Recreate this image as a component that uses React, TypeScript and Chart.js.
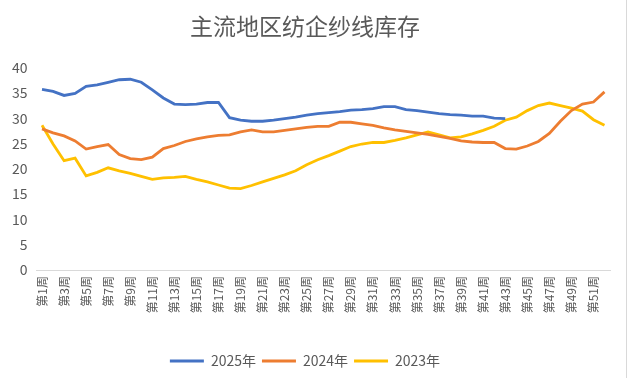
import React, { useEffect, useRef } from "react";
import { Chart, registerables } from "chart.js";

Chart.register(...registerables);

const weeks = [
  "第1周", "第2周", "第3周", "第4周", "第5周", "第6周", "第7周", "第8周", "第9周", "第10周",
  "第11周", "第12周", "第13周", "第14周", "第15周", "第16周", "第17周", "第18周", "第19周", "第20周",
  "第21周", "第22周", "第23周", "第24周", "第25周", "第26周", "第27周", "第28周", "第29周", "第30周",
  "第31周", "第32周", "第33周", "第34周", "第35周", "第36周", "第37周", "第38周", "第39周", "第40周",
  "第41周", "第42周", "第43周", "第44周", "第45周", "第46周", "第47周", "第48周", "第49周", "第50周",
  "第51周", "第52周",
];

const y2025 = [
  35.7, 35.3, 34.5, 34.9, 36.3, 36.6, 37.1, 37.6, 37.7, 37.1,
  35.6, 34.0, 32.8, 32.7, 32.8, 33.1, 33.1, 30.1, 29.6, 29.4,
  29.4, 29.6, 29.9, 30.2, 30.6, 30.9, 31.1, 31.3, 31.6, 31.7,
  31.9, 32.3, 32.3, 31.7, 31.5, 31.2, 30.9, 30.7, 30.6, 30.4,
  30.4, 30.0, 29.9,
];

const y2024 = [
  27.9, 27.1, 26.5, 25.5, 23.9, 24.4, 24.8, 22.8, 22.0, 21.8,
  22.3, 24.0, 24.6, 25.4, 25.9, 26.3, 26.6, 26.7, 27.3, 27.7,
  27.3, 27.3, 27.6, 27.9, 28.2, 28.4, 28.4, 29.2, 29.2, 28.9,
  28.6, 28.1, 27.7, 27.4, 27.1, 26.8, 26.4, 26.0, 25.5, 25.3,
  25.2, 25.2, 24.0, 23.9, 24.5, 25.4, 27.0, 29.4, 31.5, 32.8,
  33.2, 35.2,
];

const y2023 = [
  28.6, 24.9, 21.6, 22.1, 18.6, 19.3, 20.2, 19.6, 19.1, 18.5,
  17.9, 18.2, 18.3, 18.5, 17.9, 17.4, 16.8, 16.2, 16.1, 16.7,
  17.4, 18.1, 18.8, 19.6, 20.8, 21.8, 22.6, 23.5, 24.4, 24.9,
  25.2, 25.2, 25.6, 26.1, 26.7, 27.3, 26.7, 26.1, 26.3, 26.9,
  27.6, 28.4, 29.6, 30.2, 31.5, 32.5, 33.0, 32.5, 32.0, 31.4,
  29.7, 28.6,
];

const seriesNames = ["2025年", "2024年", "2023年"];
const seriesColors = ["#4472C4", "#ED7D31", "#FFC000"];

const yTicks = [0, 5, 10, 15, 20, 25, 30, 35, 40];

const titleText = "主流地区纺企纱线库存";

const FONT = "'Noto Sans CJK SC', 'Noto Sans', sans-serif";
const TEXT = "#595959";

export default function App() {
  const ref = useRef<HTMLCanvasElement | null>(null);

  useEffect(() => {
    const canvas = ref.current;
    if (!canvas) return;
    const data = [y2025, y2024, y2023];
    const chart = new Chart(canvas, {
      type: "line",
      data: {
        labels: weeks,
        datasets: data.map((d, i) => ({
          label: seriesNames[i],
          data: d,
          borderColor: seriesColors[i],
          backgroundColor: seriesColors[i],
          borderWidth: 2.8,
          pointRadius: 0,
          pointHoverRadius: 0,
          tension: 0,
          fill: false,
        })),
      },
      options: {
        responsive: false,
        animation: false,
        devicePixelRatio: 1,
        layout: { padding: { left: 0, right: 19, top: 0, bottom: 0 } },
        plugins: {
          title: {
            display: true,
            text: titleText,
            color: TEXT,
            font: { family: FONT, size: 23, weight: "normal" },
            padding: { top: 12, bottom: 28 },
          },
          legend: {
            position: "bottom",
            labels: {
              color: TEXT,
              font: { family: FONT, size: 14 },
              boxWidth: 34,
              boxHeight: 3,
              padding: 6,
              generateLabels: (ch: any) => {
                const items = Chart.defaults.plugins.legend.labels.generateLabels(ch);
                return items.map((it: any) => ({ ...it, lineWidth: 0 }));
              },
            },
          },
          tooltip: { enabled: false },
        },
        scales: {
          x: {
            type: "category",
            offset: true,
            grid: { display: false, drawTicks: false },
            border: { display: true, color: "#D9D9D9", width: 1 },
            ticks: {
              autoSkip: false,
              maxRotation: 90,
              minRotation: 90,
              padding: 6,
              color: TEXT,
              font: { family: FONT, size: 12 },
              callback: function (this: any, val: any, index: number) {
                return index % 2 === 0 ? this.getLabelForValue(val) : "";
              },
            },
            afterFit: (s: any) => {
              s.height = 78;
            },
          },
          y: {
            min: 0,
            max: 40,
            grid: { display: false, drawTicks: false },
            border: { display: false },
            afterBuildTicks: (s: any) => {
              s.ticks = yTicks.map((v) => ({ value: v }));
            },
            ticks: {
              padding: 9,
              color: TEXT,
              font: { family: FONT, size: 14 },
            },
            afterFit: (s: any) => {
              s.width = 36.5;
            },
          },
        },
      },
    });
    return () => chart.destroy();
  }, []);

  return (
    <div style={{ position: "fixed", left: 0, top: 0, width: 629, height: 378, background: "#fff" }}>
      <canvas ref={ref} width={629} height={378} style={{ display: "block" }} />
      <div style={{ position: "absolute", left: 626, top: 0, width: 1, height: 378, background: "#D9D9D9" }} />
    </div>
  );
}
